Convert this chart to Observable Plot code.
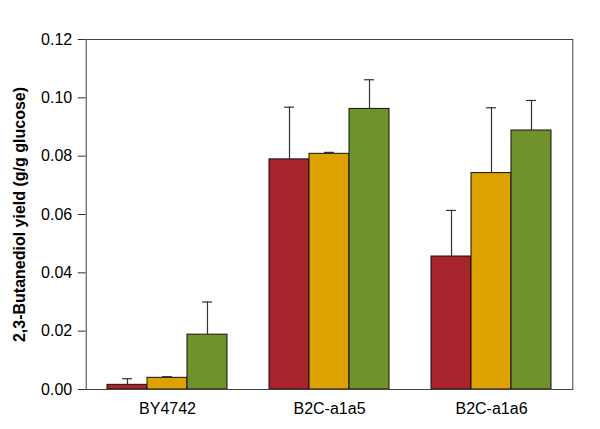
<!DOCTYPE html>
<html><head><meta charset="utf-8">
<script src="https://cdn.jsdelivr.net/npm/d3@7"></script>
<script src="https://cdn.jsdelivr.net/npm/@observablehq/plot@0.6"></script>
<style>body{margin:0;background:#fff}</style>
</head><body><div id="chart"></div>
<script>
const strains = ["BY4742", "B2C-a1a5", "B2C-a1a6"];
const conditions = ["Condition 1", "Condition 2", "Condition 3"];
const colors = ["#A9232A", "#DEA200", "#6F922A"];
const yieldCond1 = [0.0016, 0.0789, 0.0456];
const yieldCond2 = [0.0040, 0.0808, 0.0742];
const yieldCond3 = [0.0188, 0.0962, 0.0888];
const errCond1 = [0.0021, 0.0179, 0.0158];
const errCond2 = [0.0004, 0.0005, 0.0224];
const errCond3 = [0.0112, 0.0100, 0.0103];
const yTicks = [0, 0.02, 0.04, 0.06, 0.08, 0.10, 0.12];
const yLabel = "2,3-Butanediol yield (g/g glucose)";

const yields = [yieldCond1, yieldCond2, yieldCond3];
const errs = [errCond1, errCond2, errCond3];
const rows = [];
strains.forEach((s, i) => {
  conditions.forEach((c, j) => {
    rows.push({strain: s, cond: c, value: yields[j][i], top: yields[j][i] + errs[j][i]});
  });
});

const W = 600, ML = 85, MR = 28;
const outerPad = 0.125 * (W - ML - MR) / 3; // facet outer padding in px

const chart = Plot.plot({
  width: W, height: 429,
  marginLeft: ML, marginRight: MR, marginTop: 39, marginBottom: 40,
  style: {fontFamily: "'Liberation Sans', Arial, sans-serif", fontSize: "16px", background: "#fff", color: "#000"},
  fx: {domain: strains, paddingInner: 0.25, paddingOuter: 0.125, label: null, axis: null},
  x: {domain: conditions, padding: 0, axis: null},
  y: {domain: [0, 0.12], axis: null},
  color: {domain: conditions, range: colors},
  marks: [
    Plot.barY(rows, {fx: "strain", x: "cond", y: "value", fill: "cond", stroke: "#111", strokeWidth: 1}),
    Plot.ruleX(rows, {fx: "strain", x: "cond", y1: "value", y2: "top", stroke: "#333", strokeWidth: 1.2}),
    Plot.tickY(rows, {fx: "strain", x: "cond", y: "top", insetLeft: 15, insetRight: 15, stroke: "#333", strokeWidth: 1.2}),
    Plot.axisY({ticks: yTicks, tickSize: 8, tickPadding: 6, tickFormat: d3.format(".2f"), label: null, stroke: "#333", dx: -outerPad}),
    Plot.axisFx({anchor: "bottom", tickSize: 0, tickPadding: 13, label: null}),
    Plot.frame({facet: "super", stroke: "#444", insetLeft: -outerPad, insetRight: -outerPad}),
    Plot.text([yLabel], {facet: "super", frameAnchor: "left", rotate: -90, dx: -outerPad - 66, textAnchor: "middle", lineAnchor: "middle", fontWeight: "bold", fontSize: 16})
  ]
});
document.getElementById("chart").appendChild(chart);
</script>
</body></html>
